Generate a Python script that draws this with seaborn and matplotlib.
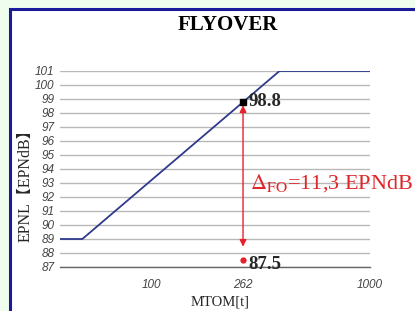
import matplotlib
matplotlib.use("Agg")
import matplotlib.pyplot as plt
import seaborn as sns
from matplotlib.patches import Rectangle

# ICAO flyover limit line (2 engines)
mtom = [38, 48.1, 385, 1000]
epnl = [89, 89, 101, 101]
# aircraft point and its measured level
ac_mtom = 262
limit_level = 98.8
measured_level = 87.5
delta_label = r"$\Delta_{\mathrm{FO}}$=11,3 EPNdB"
xticks = [100, 262, 1000]
yticks = list(range(87, 102))

sns.set_style("white")
plt.rcParams["mathtext.fontset"] = "stix"

fig = plt.figure(figsize=(4.15, 3.11), dpi=100)
fig.patch.set_facecolor("#effdee")
fig.patches.append(Rectangle((10 / 415, -0.05), 1.0, 1 - 8.5 / 311 + 0.05,
                             transform=fig.transFigure, facecolor="white",
                             edgecolor="#1a1a9a", linewidth=2.2, zorder=-1))

ax = fig.add_axes([60 / 415, 1 - 267 / 311, 310 / 415, 196 / 311])
ax.set_facecolor("none")

sns.lineplot(x=mtom, y=epnl, ax=ax, color="#2e3a8c", linewidth=1.3, zorder=3)
ax.set_xscale("log")
ax.set_xlim(38, 1000)
ax.set_ylim(87, 101)

ax.set_yticks(yticks)
ax.set_xticks(xticks)
ax.set_xticklabels([str(t) for t in xticks])
ax.minorticks_off()
for lab in ax.get_yticklabels() + ax.get_xticklabels():
    lab.set_fontfamily("Liberation Sans")
    lab.set_fontstyle("italic")
    lab.set_fontsize(8.5)
    lab.set_color("#444444")
ax.tick_params(axis="y", length=0, pad=4)
ax.tick_params(axis="x", length=3, width=0.8, color="#555555", pad=6)
ax.grid(axis="y", color="#b8b8b8", linewidth=1)
ax.grid(axis="x", visible=False)
for s in ["left", "right", "top"]:
    ax.spines[s].set_visible(False)
ax.spines["bottom"].set_color("#666666")
ax.spines["bottom"].set_linewidth(1)

# markers
ax.plot([ac_mtom], [limit_level], marker="s", color="black", markersize=4, zorder=5, clip_on=False)
ax.plot([ac_mtom], [measured_level], marker="o", color="#e8202a", markersize=3.5, zorder=5, clip_on=False)
ax.annotate("", xy=(ac_mtom, limit_level - 0.05), xytext=(ac_mtom, measured_level + 0.75),
            arrowprops=dict(arrowstyle="<|-|>", color="#e8202a", lw=1, mutation_scale=10), zorder=4)

ax.annotate(f"{limit_level}", xy=(ac_mtom, limit_level), xytext=(4, 0), textcoords="offset points",
            ha="left", va="center", fontfamily="Liberation Serif", fontweight="bold", fontsize=13.5)
ax.annotate(f"{measured_level}", xy=(ac_mtom, measured_level), xytext=(4, -3), textcoords="offset points",
            ha="left", va="center", fontfamily="Liberation Serif", fontweight="bold", fontsize=13.5,
            annotation_clip=False)
ax.text(282, 93.0, delta_label, color="#e0262a", fontfamily="Liberation Serif", fontsize=16,
        ha="left", va="center", clip_on=False)

ax.set_xlabel("MTOM[t]", fontfamily="Liberation Serif", fontsize=10.5)
ax.xaxis.set_label_coords((220 - 60) / 310, -(295 - 267) / 196)
ax.set_ylabel("EPNL【EPNdB】", family=["Liberation Serif", "Noto Sans CJK JP"], fontsize=11.5)
ax.yaxis.set_label_coords(-(60 - 34) / 310, (267 - 182) / 196)
fig.text(228 / 415, 1 - 25 / 311, "FLYOVER", ha="center", va="center", color="black",
         fontfamily="Liberation Serif", fontweight="bold", fontsize=15)

fig.savefig("out.png", dpi=100, facecolor=fig.get_facecolor())
